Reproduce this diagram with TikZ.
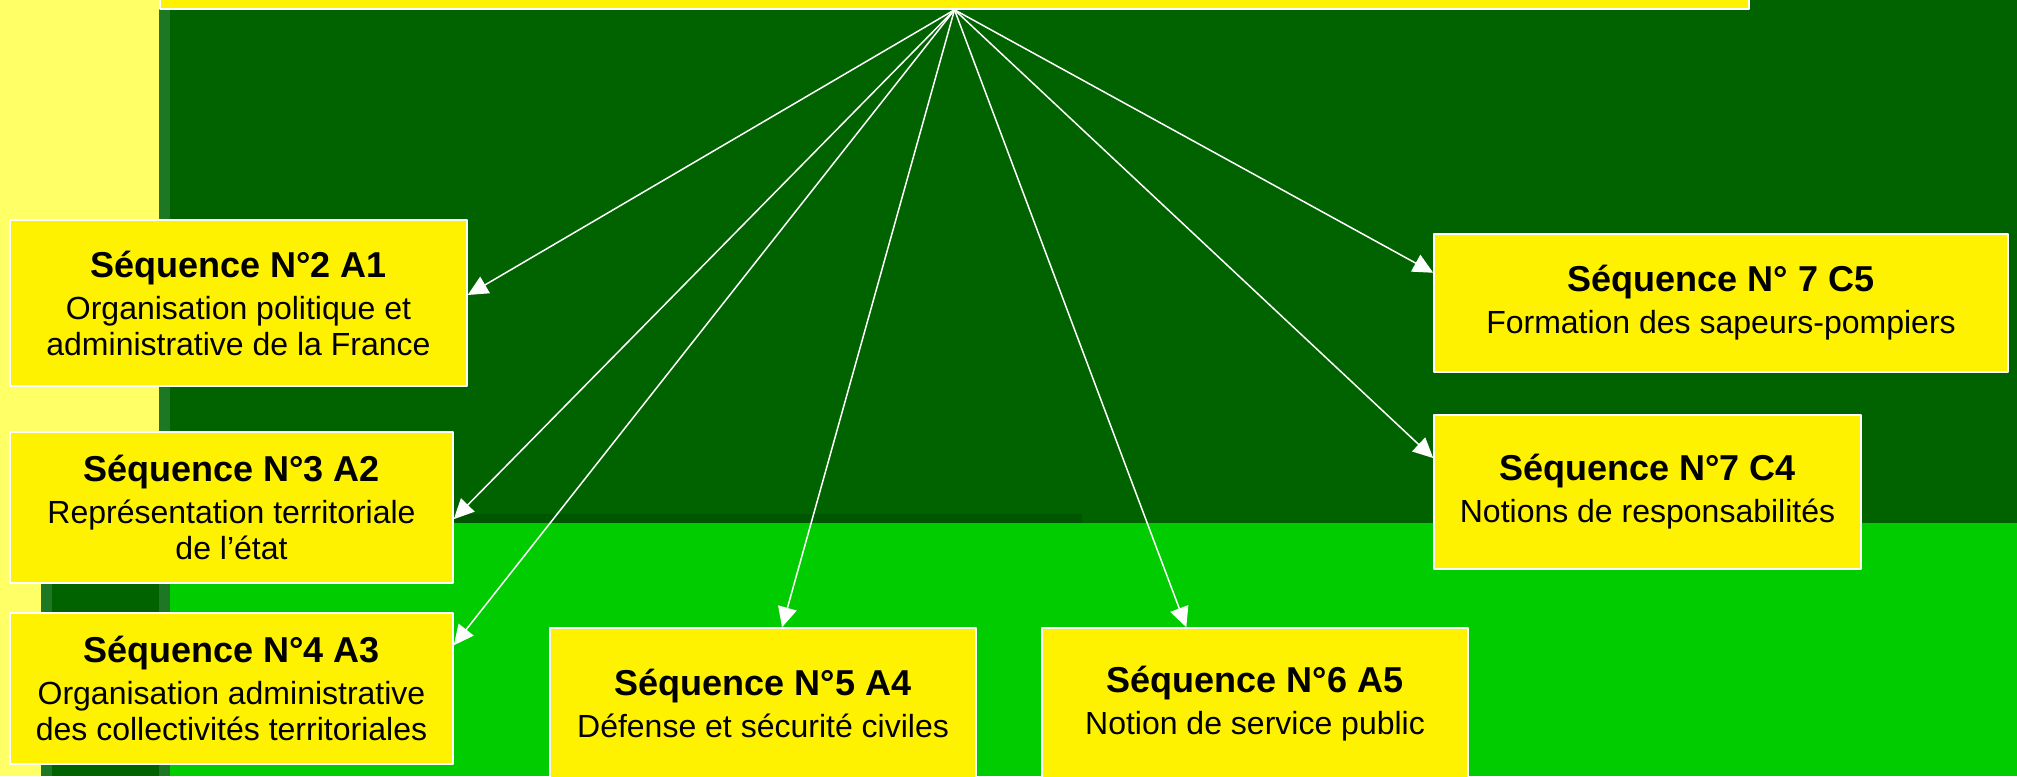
\documentclass[tikz,border=0pt]{standalone}
\usepackage{fontspec}
\setmainfont{Liberation Sans}
\usetikzlibrary{arrows.meta}
\definecolor{darkgreen}{RGB}{0,99,0}
\definecolor{brightgreen}{RGB}{0,204,0}
\definecolor{deepgreen}{RGB}{0,85,0}
\definecolor{paleyellow}{RGB}{255,255,102}
\definecolor{stripegreen}{RGB}{30,120,35}
\tikzset{
	seqbox/.style={draw=white,line width=0.8pt,fill=yellow,align=center,inner sep=0pt,font=\fontsize{16}{18}\selectfont},
	link/.style={draw=white,line width=0.75pt,->}
}
\newcommand{\seqtitle}[1]{{\fontsize{18}{18}\selectfont\bfseries #1}\\[3pt]}
\begin{document}
\begin{tikzpicture}[line cap=round,line join=round,>={Triangle[length=10pt,width=9.5pt]},x=0.5pt,y=-0.5pt]
		\clip (0,0) rectangle (2017,776);
		% background of the slide
		\fill [darkgreen] (0,0) rectangle (2017,776);
		\fill [brightgreen] (170,523) rectangle (2017,776);
		\fill [deepgreen] (170,514) rectangle (1082,523);
		\fill [paleyellow] (0,0) rectangle (159,500);
		\fill [paleyellow] (0,500) rectangle (41,776);
		\fill [stripegreen] (159,0) rectangle (170,776);
		\fill [stripegreen] (41,500) rectangle (52,776);
		% boxes
		\node [seqbox,minimum width=794.5pt,minimum height=30pt] (top) at (954.5,-21) {};
		\node [seqbox,minimum width=228.5pt,minimum height=83pt] (a1) at (238.5,303) {\seqtitle{Séquence N°2 A1}Organisation politique et\\administrative de la France};
		\node [seqbox,minimum width=221.5pt,minimum height=75.5pt] (a2) at (231.5,507.5) {\seqtitle{Séquence N°3 A2}Représentation territoriale\\de l’état};
		\node [seqbox,minimum width=221.5pt,minimum height=75.5pt] (a3) at (231.5,688.5) {\seqtitle{Séquence N°4 A3}Organisation administrative\\des collectivités territoriales};
		\node [seqbox,minimum width=213pt,minimum height=75.5pt] (a4) at (763,703.5) {\seqtitle{Séquence N°5 A4}Défense et sécurité civiles};
		\node [seqbox,minimum width=213pt,minimum height=75.5pt] (a5) at (1255,703.5) {\seqtitle{Séquence N°6 A5}Notion de service public};
		\node [seqbox,minimum width=287pt,minimum height=69pt] (c5) at (1721,303) {\seqtitle{Séquence N° 7 C5}Formation des sapeurs-pompiers};
		\node [seqbox,minimum width=213.5pt,minimum height=77pt] (c4) at (1647.5,492) {\seqtitle{Séquence N°7 C4}Notions de responsabilités};
		% arrows from the top box
		\draw [link] (top.south) -- (a1.2.5);
		\draw [link] (top.south) -- (a2.-3.7);
		\draw [link] (top.south) -- (a3.11.6);
		\draw [link] (top.south) -- (a4.76.6);
		\draw [link] (top.south) -- (a5.132.8);
		\draw [link] (top.south) -- (c4.171);
		\draw [link] (top.south) -- (c5.174.8);
	\end{tikzpicture}
\end{document}
